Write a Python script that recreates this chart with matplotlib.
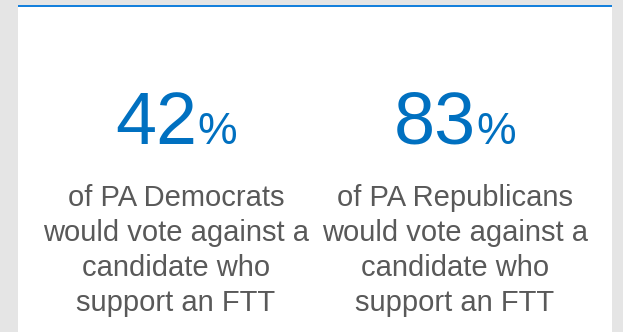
import matplotlib
matplotlib.use("Agg")
import matplotlib.pyplot as plt
from matplotlib.patches import Rectangle

# Survey figures
groups = ["PA Democrats", "PA Republicans"]
shares = [42, 83]
caption_tail = ["would vote against a", "candidate who", "support an FTT"]

W, H = 623, 332
BLUE = "#0070c0"
GREY = "#595959"
FONT = "Liberation Sans"

fig = plt.figure(figsize=(W / 100, H / 100), dpi=100, facecolor="#e5e5e5")
ax = fig.add_axes([0, 0, 1, 1])
ax.set_xlim(0, W)
ax.set_ylim(H, 0)
ax.axis("off")

# card with accent bar on top
ax.add_patch(Rectangle((18, 7), 594, H - 7, facecolor="white", edgecolor="none"))
ax.add_patch(Rectangle((18, 5), 594, 2.2, facecolor="#1580dc", edgecolor="none"))

renderer = fig.canvas.get_renderer()
centers = [176, 455]

for cx, grp, val in zip(centers, groups, shares):
    # big number followed by a smaller percent sign, centred as one unit
    num = ax.text(0, 144, f"{val}", fontsize=53, color=BLUE, family=FONT,
                  ha="left", va="baseline")
    pct = ax.text(0, 144, "%", fontsize=32, color=BLUE, family=FONT,
                  ha="left", va="baseline")
    wn = num.get_window_extent(renderer).width
    wp = pct.get_window_extent(renderer).width
    left = cx - (wn + wp) / 2
    num.set_x(left)
    pct.set_x(left + wn)

    lines = [f"of {grp}"] + caption_tail
    for i, line in enumerate(lines):
        ax.text(cx, 206 + 35 * i, line, fontsize=21, color=GREY, family=FONT,
                ha="center", va="baseline")

fig.savefig("out.png", dpi=100, facecolor=fig.get_facecolor())
